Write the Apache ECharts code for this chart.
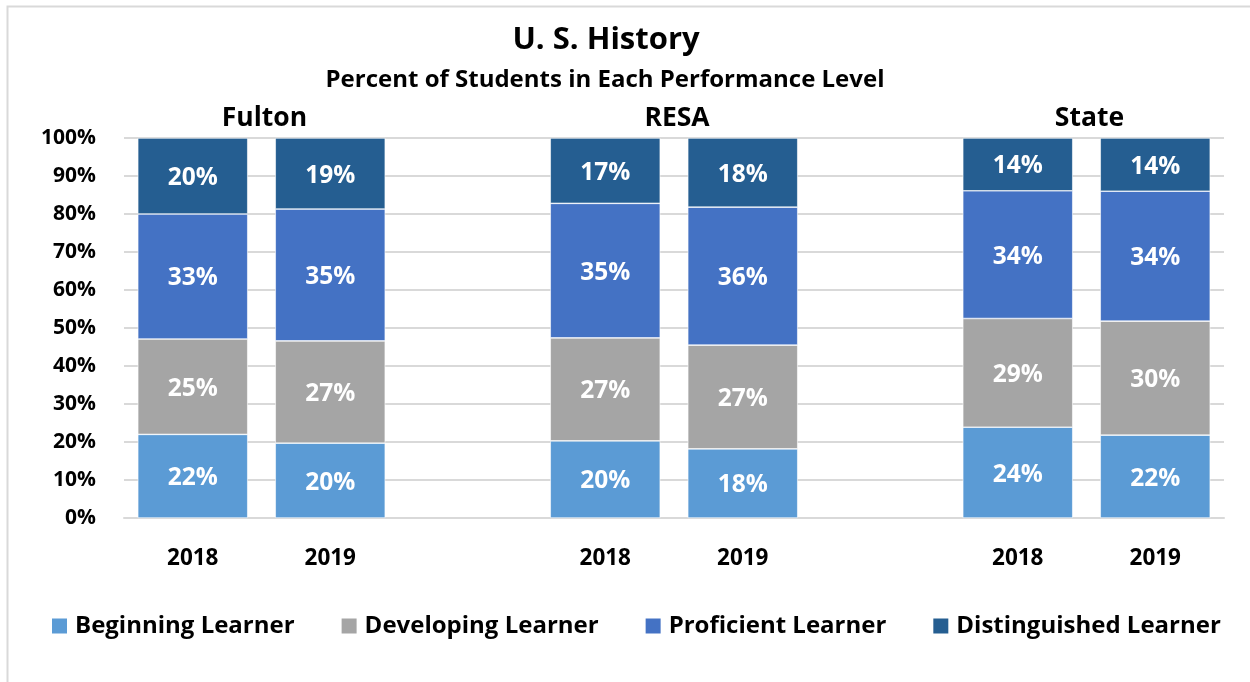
<!DOCTYPE html>
<html><head><meta charset="utf-8">
<script src="https://cdn.jsdelivr.net/npm/echarts@6/dist/echarts.min.js"></script>
<style>html,body{margin:0;padding:0;background:#fff}#c{width:1250px;height:682px}</style>
</head><body><div id="c"></div>
<script>
const categories = ['2018','2019','','2018','2019','','2018','2019'];
const groups = ['Fulton','RESA','State'];
const beginning     = [22.0, 19.7, null, 20.3, 18.2, null, 23.9, 21.8];
const developing    = [25.1, 26.9, null, 27.1, 27.3, null, 28.6, 30.0];
const proficient    = [32.9, 34.7, null, 35.4, 36.3, null, 33.6, 34.2];
const distinguished = [20.0, 18.7, null, 17.2, 18.2, null, 13.9, 14.0];
const yTicks = [0,10,20,30,40,50,60,70,80,90,100];

const FONT = '"Open Sans"';
const chart = echarts.init(document.getElementById('c'), null, {renderer:'canvas'});
function mk(name, data, color){
  return {
    name, type:'bar', stack:'all', data, barWidth:110,
    itemStyle:{color, borderColor:'#ffffff', borderWidth:0.6},
    label:{show:true, position:'inside', offset:[0,2], color:'#fff', fontFamily:FONT, fontWeight:'bold', fontSize:24.5,
      formatter:p=>p.value==null?'':Math.round(p.value)+'%'},
    emphasis:{disabled:true}, animation:false
  };
}
const option = {
  animation:false,
  textStyle:{fontFamily:FONT},
  grid:{left:124, right:26, top:138, bottom:164, containLabel:false},
  legend:{
    top:609, left:45, itemWidth:17, itemGap:45, itemHeight:17, icon:'rect',
    textStyle:{fontFamily:FONT, fontWeight:'bold', fontSize:24, color:'#000', padding:[0,0,0,2]},
    data:['Beginning Learner','Developing Learner','Proficient Learner','Distinguished Learner']
  },
  xAxis:{
    type:'category', data:categories,
    axisLine:{show:true, lineStyle:{color:'#d9d9d9', width:2}},
    axisTick:{show:false},
    axisLabel:{color:'#000', fontFamily:FONT, fontWeight:'bold', fontSize:22.5, margin:29}
  },
  yAxis:{
    type:'value', min:0, max:100, interval:10,
    axisLine:{show:false}, axisTick:{show:false},
    splitLine:{lineStyle:{color:'#d9d9d9', width:2}},
    axisLabel:{color:'#000', fontFamily:FONT, fontWeight:'bold', fontSize:21, margin:28, padding:[4,0,0,0], formatter:v=>v+'%'}
  },
  series:[
    mk('Beginning Learner', beginning, '#5B9BD5'),
    mk('Developing Learner', developing, '#A5A5A5'),
    mk('Proficient Learner', proficient, '#4472C4'),
    mk('Distinguished Learner', distinguished, '#255E91')
  ]
};
chart.setOption(option);
const gx = groups.map((g,i)=>{
  const a = chart.convertToPixel({xAxisIndex:0}, i*3);
  const b = chart.convertToPixel({xAxisIndex:0}, i*3+1);
  return (a+b)/2 + 3;
});
chart.setOption({graphic:[
  {type:'rect', left:5, top:4, shape:{width:1260, height:700}, style:{fill:'none', stroke:'#d9d9d9', lineWidth:2}, silent:true, z:-1},
  {type:'text', x:606, y:40, style:{text:'U. S. History', fill:'#000', font:'bold 31px '+FONT, textAlign:'center', textVerticalAlign:'middle'}},
  {type:'text', x:605, y:80, style:{text:'Percent of Students in Each Performance Level', fill:'#000', font:'bold 24px '+FONT, textAlign:'center', textVerticalAlign:'middle'}},
  ...groups.map((g,i)=>({type:'text', x:gx[i], y:118, style:{text:g, fill:'#000', font:'bold 26.5px '+FONT, textAlign:'center', textVerticalAlign:'middle'}}))
]});
</script></body></html>
